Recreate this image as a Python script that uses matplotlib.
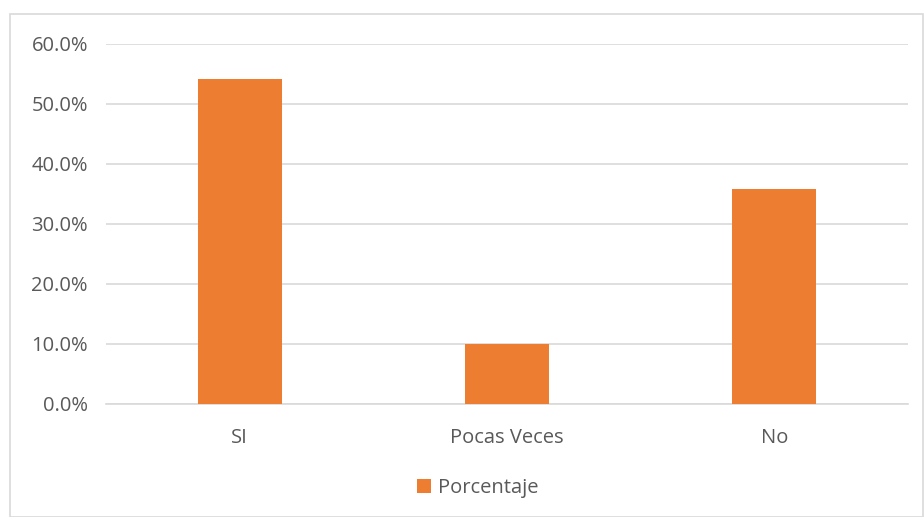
import matplotlib.pyplot as plt
from matplotlib.patches import Rectangle
from matplotlib.ticker import FuncFormatter

# data
categories = ["SI", "Pocas Veces", "No"]
porcentaje = [54.1, 10.0, 35.9]
y_ticks = [0, 10, 20, 30, 40, 50, 60]

bar_color = "#ED7D31"
text_color = "#595959"
grid_color = "#D9D9D9"

plt.rcParams['font.family'] = ['Open Sans', 'DejaVu Sans']

fig = plt.figure(figsize=(9.24, 5.17), dpi=100)
ax = fig.add_axes([0.1147, 0.2186, 0.8680, 0.6963])

x = range(len(categories))
ax.bar(x, porcentaje, width=0.315, color=bar_color, label="Porcentaje", zorder=3)

ax.set_xlim(-0.5, 2.5)
ax.set_ylim(0, 60)
ax.set_yticks(y_ticks)
ax.yaxis.set_major_formatter(FuncFormatter(lambda v, p: f"{v:.1f}%"))
ax.set_xticks(list(x))
ax.set_xticklabels(categories)

ax.grid(axis="y", color=grid_color, linewidth=1.2, zorder=0)
for s in ["top", "right", "left"]:
    ax.spines[s].set_visible(False)
ax.spines["bottom"].set_color(grid_color)
ax.spines["bottom"].set_linewidth(1.2)
ax.tick_params(axis="both", length=0, labelsize=14.5, labelcolor=text_color)
ax.tick_params(axis="y", pad=13)
ax.tick_params(axis="x", pad=17)

# outer chart border
fig.patches.append(Rectangle((10 / 924, 0), (923 - 10) / 924, 1 - 14 / 517,
                             transform=fig.transFigure, fill=False,
                             edgecolor=grid_color, linewidth=1.2))

leg = fig.legend(loc="center", bbox_to_anchor=(0.517, 0.056), frameon=False,
                 fontsize=14.5, handlelength=0.7, handleheight=0.7,
                 handletextpad=0.3)
for t in leg.get_texts():
    t.set_color(text_color)

fig.savefig("out.png", dpi=100)
